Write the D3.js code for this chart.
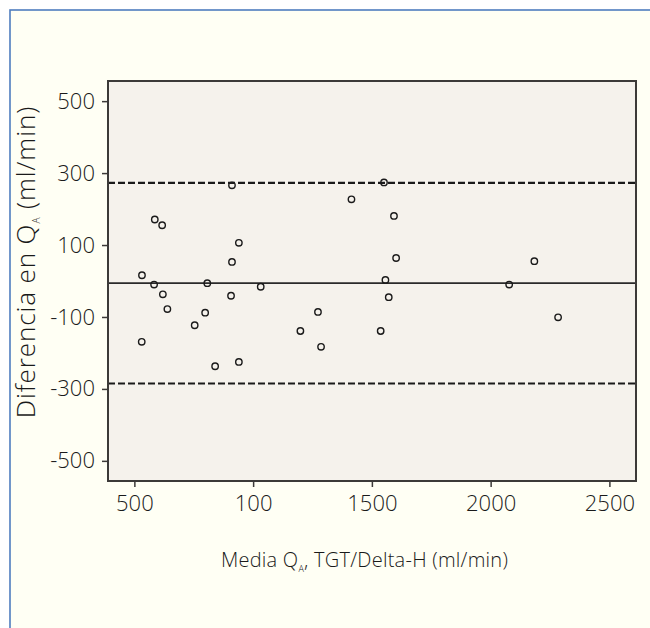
<!DOCTYPE html>
<html>
<head>
<meta charset="utf-8">
<script src="https://cdn.jsdelivr.net/npm/d3@7"></script>
<style>
  html, body { margin: 0; padding: 0; background: #ffffff; }
  svg { display: block; }
  text { font-family: "Open Sans", "DejaVu Sans", sans-serif; font-weight: 300; fill: #1a1a1a; }
</style>
</head>
<body>
<svg id="chart" width="650" height="628"></svg>
<script>
// ---- data ----
const meanX = [911, 1414, 586, 617, 940, 911, 532, 583, 807, 1032, 620, 907, 639, 798, 1273,
               754, 1199, 531, 1286, 940, 840, 1551, 1593, 1602, 1557, 1571, 1537, 2078, 2184, 2284];
const diffY = [266, 227, 171, 155, 106, 53, 16, -10, -6, -16, -37, -41, -78, -88, -86,
               -123, -139, -169, -183, -225, -237, 274, 181, 64, 3, -45, -139, -10, 55, -101];
const meanDiff = -6;
const upperLoA = 273;
const lowerLoA = -285;
const xTickValues = [500, 1000, 1500, 2000, 2500];
const xTickLabels = ["500", "100", "1500", "2000", "2500"];
const yTickValues = [500, 300, 100, -100, -300, -500];
const yTickLabels = ["500", "300", "100", "-100", "-300", "-500"];

// ---- layout ----
const svg = d3.select("#chart");
const L = 108, R = 636, T = 81, B = 481;

// outer panel
svg.append("rect").attr("x", 10).attr("y", 10).attr("width", 660).attr("height", 640)
  .attr("fill", "#fffff4").attr("stroke", "#4f7dbf").attr("stroke-width", 1.6);

const x = d3.scaleLinear().domain([389, 2612]).range([L, R]);
const y = d3.scaleLinear().domain([-556, 556]).range([B, T]);

// plot background
svg.append("rect").attr("x", L).attr("y", T).attr("width", R - L).attr("height", B - T)
  .attr("fill", "#f5f2ec");

// reference lines
const lines = svg.append("g");
lines.append("line").attr("x1", L).attr("x2", R).attr("y1", y(meanDiff)).attr("y2", y(meanDiff))
  .attr("stroke", "#2a2a2a").attr("stroke-width", 1.6);
[upperLoA, lowerLoA].forEach(v => {
  lines.append("line").attr("x1", L).attr("x2", R).attr("y1", y(v)).attr("y2", y(v))
    .attr("stroke", "#1a1a1a").attr("stroke-width", 2.2).attr("stroke-dasharray", "7,3");
});

// points
svg.append("g").selectAll("circle").data(meanX.map((d, i) => [d, diffY[i]])).join("circle")
  .attr("cx", d => x(d[0])).attr("cy", d => y(d[1])).attr("r", 3.2)
  .attr("fill", "none").attr("stroke", "#1a1a1a").attr("stroke-width", 1.4);

// frame
svg.append("rect").attr("x", L).attr("y", T).attr("width", R - L).attr("height", B - T)
  .attr("fill", "none").attr("stroke", "#3c3a38").attr("stroke-width", 2);

// axes
const xAxis = d3.axisBottom(x).tickValues(xTickValues)
  .tickFormat((d, i) => xTickLabels[i]).tickSize(6).tickSizeOuter(0);
const gx = svg.append("g").attr("transform", `translate(0,${B})`).call(xAxis);
gx.select(".domain").remove();
gx.selectAll(".tick line").attr("stroke", "#3c3a38").attr("stroke-width", 1.5);
gx.selectAll(".tick text").attr("font-size", 22).attr("dy", "0.95em").attr("fill", "#1a1a1a")
  .style("font-family", "'Open Sans', sans-serif").style("font-weight", 300);

const yAxis = d3.axisLeft(y).tickValues(yTickValues)
  .tickFormat((d, i) => yTickLabels[i]).tickSize(6).tickSizeOuter(0);
const gy = svg.append("g").attr("transform", `translate(${L},0)`).call(yAxis);
gy.select(".domain").remove();
gy.selectAll(".tick line").attr("stroke", "#3c3a38").attr("stroke-width", 1.5);
gy.selectAll(".tick text").attr("font-size", 22).attr("x", -13).attr("fill", "#1a1a1a")
  .style("font-family", "'Open Sans', sans-serif").style("font-weight", 300);

// axis titles
const xt = svg.append("text").attr("x", (219 + 510) / 2).attr("y", 567)
  .attr("text-anchor", "middle").attr("font-size", 20).style("letter-spacing", "0.25px");
xt.append("tspan").text("Media Q");
xt.append("tspan").attr("font-size", 9).attr("dy", 5).text("A");
xt.append("tspan").attr("dy", -5).text(", TGT/Delta-H (ml/min)");

const yt = svg.append("text").attr("transform", "translate(35,262) rotate(-90)")
  .attr("text-anchor", "middle").attr("font-size", 26).style("letter-spacing", "0.9px");
yt.append("tspan").text("Diferencia en Q");
yt.append("tspan").attr("font-size", 10).attr("dy", 5).text("A");
yt.append("tspan").attr("dy", -5).text(" (ml/min)");
</script>
</body>
</html>
